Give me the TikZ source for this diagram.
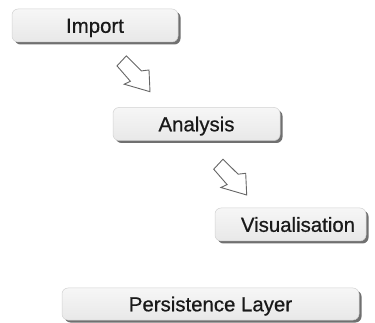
\documentclass[tikz,border=0pt]{standalone}
\usepackage{fontspec}
\setmainfont{Liberation Sans}
\newfontfamily\boxfont[FakeBold=0.6]{Liberation Sans}
\usetikzlibrary{shadows}
\begin{document}
\begin{tikzpicture}[x=1pt,y=-1pt,
  layerbox/.style={draw=gray!35, line width=0.5pt, rounded corners=6pt,
    top color=gray!7, bottom color=gray!18,
    drop shadow={shadow xshift=2.5pt, shadow yshift=-2.5pt, fill=gray!75!black, opacity=0.9},
    font=\boxfont\fontsize{20.4}{24}\selectfont, text=black!90, inner sep=0pt,
    text height=14.6pt, text depth=0pt, minimum height=33pt},
  flowarrow/.style={draw=gray!80!black, line width=0.9pt, fill=white, line join=miter}]
\useasboundingbox (0,0) rectangle (375,323);
\node[layerbox, minimum width=166pt] (import) at (95,25.5) {Import};
\node[layerbox, minimum width=167pt] (analysis) at (196.5,124) {Analysis};
\node[layerbox, minimum width=151pt] (vis) at (290.5,224.5) {\hspace{15pt}Visualisation};
\node[layerbox, minimum width=297pt, minimum height=32pt] (persist) at (210.5,304) {Persistence Layer\hspace{21pt}};
\coordinate (tipA) at (150,91.7);
\coordinate (tipB) at (246.7,195);
\foreach \t in {tipA,tipB}{
  \draw[flowarrow] ([shift={(-23.7,-35.8)}]\t) -- ([shift={(-8.6,-20.8)}]\t)
    -- ([shift={(-1,-21.7)}]\t) -- (\t) -- ([shift={(-25.8,-7.5)}]\t)
    -- ([shift={(-19.6,-10.4)}]\t) -- ([shift={(-33,-25.8)}]\t) -- cycle;
}
\end{tikzpicture}
\end{document}
